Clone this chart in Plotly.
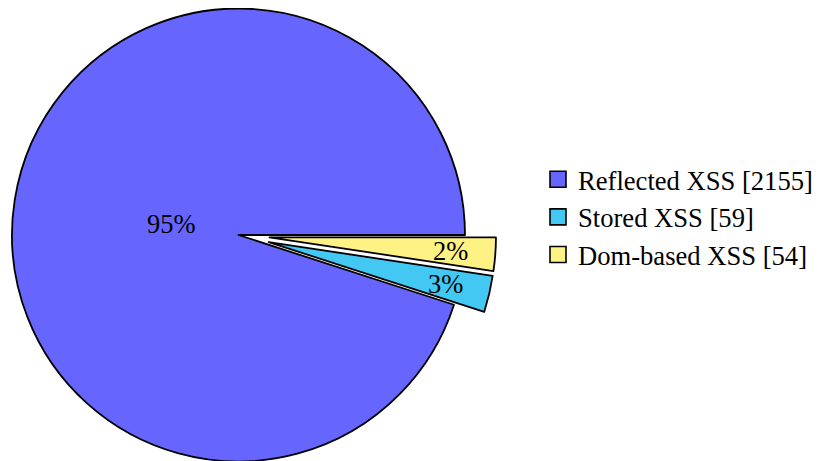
import math
import plotly.graph_objects as go

categories = ["Reflected XSS", "Stored XSS", "Dom-based XSS"]
counts = [2155, 59, 54]
colors = ["#6666FF", "#42C8F2", "#FFF285"]
pulls = [0.0, 0.137, 0.137]

# page offset (default body margin) and figure size
OFF = 8
W, H = 821, 480
R = 226.5
CX, CY = 238.5 - OFF, 235 - OFF
FONT = "Liberation Serif"
FS = 26.5
LEG_FS = 26.6

total = sum(counts)
legend_labels = [f"{c} [{n}]" for c, n in zip(categories, counts)]
pct = [f"{round(100 * n / total)}%" for n in counts]

# slice mid-angles (counterclockwise from 3 o'clock)
mids = []
acc = 0
for n in counts:
    a0 = acc / total * 2 * math.pi
    acc += n
    a1 = acc / total * 2 * math.pi
    mids.append((a0 + a1) / 2)

# plotly puts the first slice clockwise of 'rotation' when direction is counterclockwise
rotation = 90 + 360 * (total - counts[0]) / total


def dom(cx, cy, r):
    return dict(x=[max(0, (cx - r) / W), min(1, (cx + r) / W)],
                y=[max(0, 1 - (cy + r) / H), min(1, 1 - (cy - r) / H)])


fig = go.Figure()

annotations = []
for i in range(len(counts)):
    d = pulls[i] * R
    cx = CX + d * math.cos(mids[i])
    cy = CY - d * math.sin(mids[i])
    fc = ["rgba(0,0,0,0)"] * len(counts)
    fc[i] = colors[i]
    lw = [0] * len(counts)
    lw[i] = 1.8
    fig.add_trace(go.Pie(
        labels=legend_labels, values=counts, sort=False, direction="counterclockwise",
        rotation=rotation,
        marker=dict(colors=fc, line=dict(color="black", width=lw)),
        textinfo="none", hoverinfo="skip", domain=dom(cx, cy, R), showlegend=False))
    frac = 0.3 if i == 0 else 0.8
    tx = cx + frac * R * math.cos(mids[i])
    ty = cy - frac * R * math.sin(mids[i])
    annotations.append(dict(x=tx / W, y=1 - ty / H, xref="paper", yref="paper", text=pct[i],
                            showarrow=False, font=dict(family=FONT, size=FS, color="black"),
                            xanchor="center", yanchor="middle"))

# legend entries
for lab, col in zip(legend_labels, colors):
    fig.add_trace(go.Scatter(
        x=[None], y=[None], mode="markers", name=lab, showlegend=True, hoverinfo="skip",
        marker=dict(symbol="square", size=16, color=col, line=dict(color="black", width=1.6))))

fig.update_layout(
    width=W, height=H, margin=dict(l=0, r=0, t=0, b=0),
    paper_bgcolor="white", plot_bgcolor="white",
    xaxis=dict(visible=False), yaxis=dict(visible=False),
    annotations=annotations,
    legend=dict(x=530 / W, xanchor="left", y=1 - 209 / H, yanchor="middle",
                font=dict(family=FONT, size=LEG_FS, color="black"), bgcolor="rgba(0,0,0,0)"),
)

fig.write_html("out.html")
